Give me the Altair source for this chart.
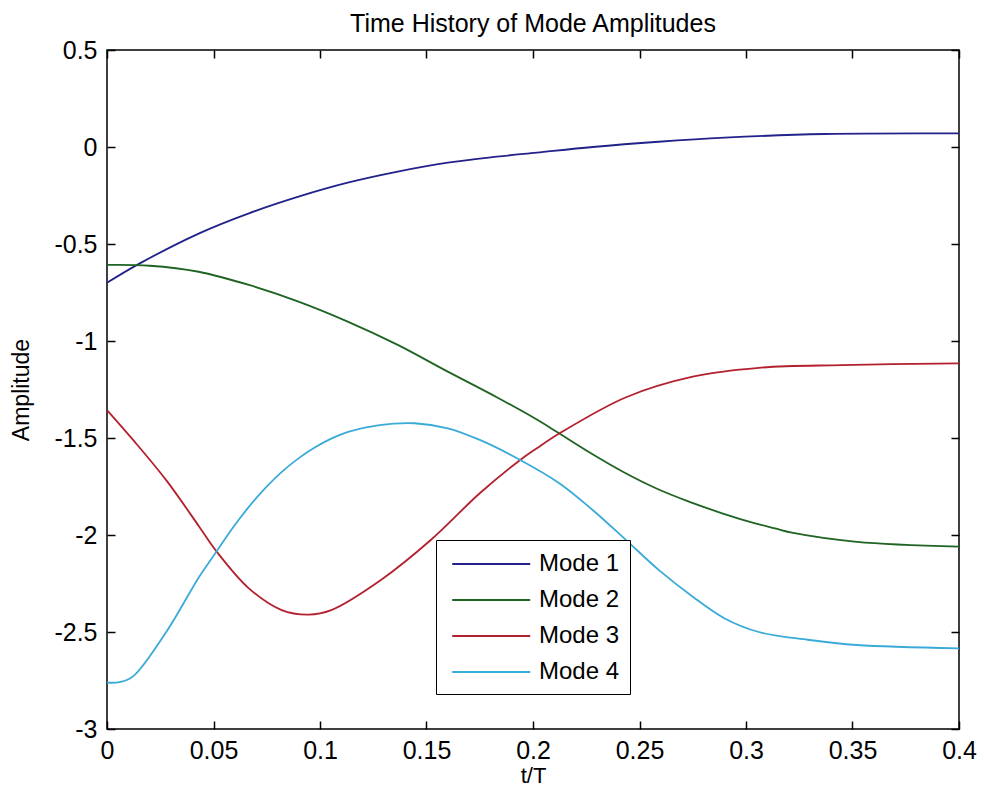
import altair as alt
import pandas as pd

# ---- data (t/T, amplitude) ----
mode1_t = [0, 0.0154, 0.0433, 0.0666, 0.0899, 0.113, 0.1365, 0.16, 0.183, 0.2018, 0.228, 0.259, 0.290, 0.337, 0.4]
mode1_v = [-0.70, -0.60, -0.445, -0.342, -0.256, -0.184, -0.127, -0.081, -0.05, -0.029, 0.0, 0.027, 0.048, 0.067, 0.07]

mode2_t = [0, 0.02, 0.043, 0.0666, 0.0899, 0.113, 0.1365, 0.16, 0.183, 0.2018, 0.2111, 0.2266, 0.2422, 0.2577,
           0.2732, 0.2888, 0.3043, 0.3136, 0.3215, 0.352, 0.4]
mode2_v = [-0.608, -0.612, -0.643, -0.711, -0.797, -0.90, -1.02, -1.158, -1.290, -1.405, -1.468, -1.575, -1.674, -1.759,
           -1.828, -1.888, -1.940, -1.966, -1.988, -2.035, -2.06]

mode3_t = [0, 0.01225, 0.0277, 0.0433, 0.0511, 0.0666, 0.082, 0.0946, 0.1053, 0.1286, 0.152, 0.175, 0.194, 0.2018,
           0.2125, 0.2437, 0.275, 0.306, 0.345, 0.4]
mode3_v = [-1.356, -1.51, -1.716, -1.957, -2.08, -2.275, -2.387, -2.41, -2.387, -2.232, -2.026, -1.785, -1.613, -1.553,
           -1.476, -1.29, -1.184, -1.138, -1.124, -1.115]

mode4_t = [0, 0.006, 0.0121, 0.0278, 0.0433, 0.0511, 0.0589, 0.0666, 0.0744, 0.0822, 0.0899, 0.0977, 0.1055, 0.1132,
           0.1272, 0.1443, 0.16, 0.175, 0.194, 0.2125, 0.228, 0.2437, 0.259, 0.275, 0.290, 0.306, 0.329, 0.352, 0.4]
mode4_v = [-2.761, -2.758, -2.73, -2.50, -2.215, -2.09, -1.965, -1.855, -1.757, -1.673, -1.605, -1.548, -1.502, -1.468,
           -1.435, -1.424, -1.45, -1.51, -1.613, -1.734, -1.871, -2.026, -2.18, -2.318, -2.43, -2.50, -2.54, -2.567, -2.584]

series_names = ["Mode 1", "Mode 2", "Mode 3", "Mode 4"]
series_colors = ["#22228a", "#1f6422", "#b3202e", "#3aaad8"]
x_ticks = [0, 0.05, 0.1, 0.15, 0.2, 0.25, 0.3, 0.35, 0.4]
y_ticks = [-3, -2.5, -2, -1.5, -1, -0.5, 0, 0.5]

rows = []
for name, ts, vs in zip(series_names, [mode1_t, mode2_t, mode3_t, mode4_t],
                        [mode1_v, mode2_v, mode3_v, mode4_v]):
    for t, v in zip(ts, vs):
        rows.append({"t": t, "amp": v, "mode": name})
df = pd.DataFrame(rows)

FONT = "Liberation Sans"
xscale = alt.Scale(domain=[0, 0.4], nice=False, zero=False)
yscale = alt.Scale(domain=[-3, 0.5], nice=False, zero=False)

lines = alt.Chart(df).mark_line(strokeWidth=1.8, interpolate="catmull-rom").encode(
    x=alt.X("t:Q", scale=xscale,
            axis=alt.Axis(orient="bottom", values=x_ticks, offset=-8, tickSize=8,
                          domain=False, grid=False, labelPadding=9,
                          labelExpr="datum.value + ''", labelFontSize=25, labelFont=FONT,
                          labelColor="black", tickColor="black", tickWidth=1.5,
                          title="t/T", titleFontSize=22, titleFont=FONT,
                          titleFontWeight="normal", titleColor="black", titlePadding=2,
                          labelFlush=False, labelOverlap=False)),
    y=alt.Y("amp:Q", scale=yscale,
            axis=alt.Axis(orient="left", values=y_ticks, offset=-8, tickSize=8,
                          domain=False, grid=False, labelPadding=10,
                          labelExpr="datum.value + ''", labelFontSize=25, labelFont=FONT,
                          labelColor="black", tickColor="black", tickWidth=1.5,
                          title="Amplitude", titleFontSize=23, titleFont=FONT,
                          titleFontWeight="normal", titleColor="black", titlePadding=20,
                          labelOverlap=False)),
    color=alt.Color("mode:N",
                    scale=alt.Scale(domain=series_names, range=series_colors),
                    legend=alt.Legend(title=None, orient="none", legendX=329, legendY=490,
                                      fillColor="white", strokeColor="black",
                                      padding=10, symbolType="M-0.6,0H5.4",
                                      symbolSize=676, symbolStrokeWidth=2,
                                      labelFontSize=24, labelFont=FONT, labelColor="black",
                                      labelOffset=65, rowPadding=10)),
)

frame_ticks = alt.Chart(df).mark_line(strokeOpacity=0).encode(
    x=alt.X("t:Q", scale=xscale,
            axis=alt.Axis(orient="top", values=x_ticks, offset=-8, tickSize=8,
                          domain=False, grid=False, labels=False, title=None,
                          tickColor="black", tickWidth=1.5)),
    y=alt.Y("amp:Q", scale=yscale,
            axis=alt.Axis(orient="right", values=y_ticks, offset=-8, tickSize=8,
                          domain=False, grid=False, labels=False, title=None,
                          tickColor="black", tickWidth=1.5)),
    detail="mode:N",
)

chart = alt.layer(lines, frame_ticks).resolve_axis(
    x="independent", y="independent"
).properties(
    width=852, height=679,
    autosize=alt.AutoSizeParams(type="none"),
    padding={"left": 99, "top": 42, "right": 18, "bottom": 61},
    title=alt.TitleParams("Time History of Mode Amplitudes", fontSize=25, font=FONT,
                          fontWeight="normal", color="black", offset=1, anchor="middle"),
    background="white",
).configure_view(stroke="black", strokeWidth=1.5)

chart.save("out.html", embed_options={"renderer": "svg", "actions": False})
